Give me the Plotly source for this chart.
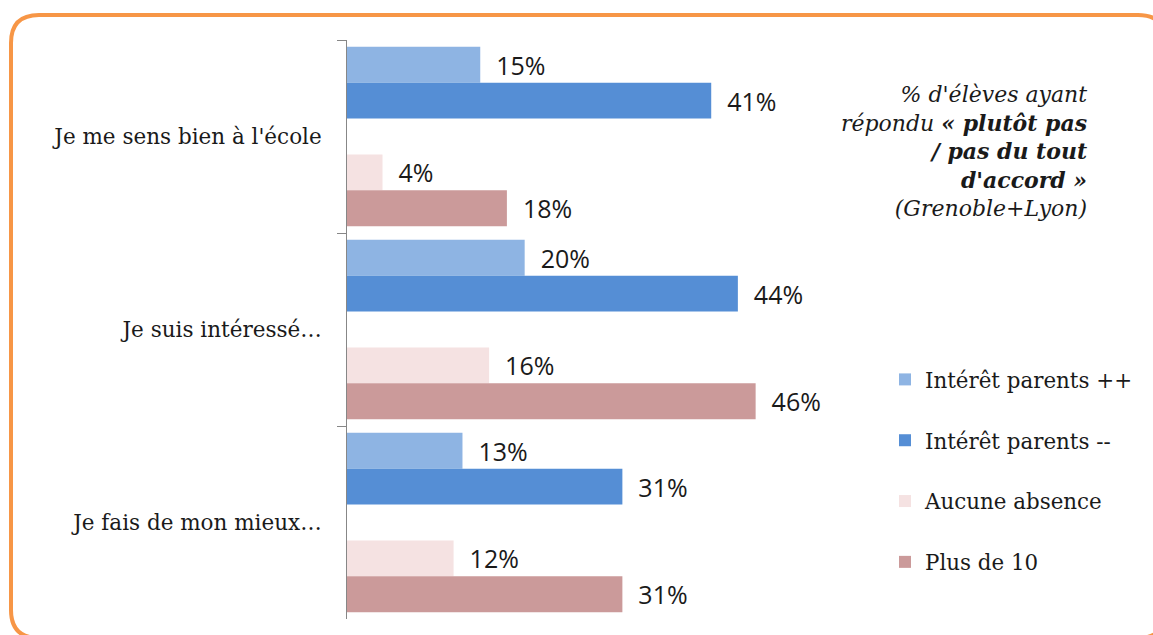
import plotly.graph_objects as go

# Survey items (one group of bars each)
categories = ["Je me sens bien à l'école", "Je suis intéressé…", "Je fais de mon mieux…"]

# % of pupils answering "rather not / not at all agree"
interet_plus = [15, 20, 13]
interet_moins = [41, 44, 31]
aucune_absence = [4, 16, 12]
plus_de_10 = [18, 46, 31]

series = [
    ("Intérêt parents ++", interet_plus, "#8EB4E3"),
    ("Intérêt parents --", interet_moins, "#558ED5"),
    (None, None, None),  # empty slot separating the two pairs
    ("Aucune absence", aucune_absence, "#F5E2E2"),
    ("Plus de 10", plus_de_10, "#CB9A9A"),
]

SERIF = "DejaVu Serif"
LABEL_FONT = "Open Sans"

fig = go.Figure()
for i, (name, vals, color) in enumerate(series):
    if vals is None:
        fig.add_trace(go.Bar(
            y=categories, x=[None] * len(categories), orientation="h",
            showlegend=False, hoverinfo="skip", name="",
        ))
        continue
    fig.add_trace(go.Bar(
        y=categories, x=vals, orientation="h", name=name,
        marker=dict(color=color, line=dict(width=0)),
        text=[f"{v}%" for v in vals],
        texttemplate="\u00a0\u00a0%{text}",
        textposition="outside",
        textfont=dict(family=LABEL_FONT, size=25, color="#1a1a1a"),
        constraintext="none",
        cliponaxis=False,
        legendgroup=f"g{i}",
    ))

W, H = 1153, 635
ML, MR, MT, MB = 347, 273, 40, 16
PW, PH = W - ML - MR, H - MT - MB


def paper(px, py):
    return (px - ML) / PW, (H - MB - py) / PH


# Rounded orange frame around the chart
x0, y0, x1, y1, r = 11, 15, 1166, 638, 28
pts = {
    "a": paper(x0 + r, y0), "b": paper(x1 - r, y0), "c": paper(x1, y0),
    "d": paper(x1, y0 + r), "e": paper(x1, y1 - r), "f": paper(x1, y1),
    "g": paper(x1 - r, y1), "h": paper(x0 + r, y1), "i": paper(x0, y1),
    "j": paper(x0, y1 - r), "k": paper(x0, y0 + r), "l": paper(x0, y0),
}
P = lambda k: f"{pts[k][0]:.5f},{pts[k][1]:.5f}"
frame_path = (
    f"M{P('a')} L{P('b')} Q{P('c')} {P('d')} L{P('e')} Q{P('f')} {P('g')} "
    f"L{P('h')} Q{P('i')} {P('j')} L{P('k')} Q{P('l')} {P('a')} Z"
)

note_x, note_y = paper(1089, 80)

fig.update_layout(
    width=W, height=H,
    margin=dict(l=ML, r=MR, t=MT, b=MB),
    paper_bgcolor="white", plot_bgcolor="white",
    barmode="group", bargap=0.07, bargroupgap=0,
    font=dict(family=SERIF, size=21, color="#1a1a1a"),
    xaxis=dict(range=[0, 60], visible=False, fixedrange=True),
    yaxis=dict(
        type="category", range=[2.5, -0.5],
        showline=True, linecolor="#878787", linewidth=1,
        ticks="outside", tickson="boundaries", ticklen=9, tickcolor="#878787",
        ticklabelstandoff=20,
        tickfont=dict(family=SERIF, size=21.5, color="#1a1a1a"),
        showgrid=False, zeroline=False,
    ),
    legend=dict(
        x=paper(885, 0)[0], xanchor="left",
        y=paper(0, 359)[1], yanchor="top",
        traceorder="grouped", tracegroupgap=30,
        font=dict(family=SERIF, size=21.4, color="#1a1a1a"),
        bgcolor="rgba(0,0,0,0)",
    ),
    shapes=[dict(
        type="path", xref="paper", yref="paper", path=frame_path,
        line=dict(color="#F79646", width=4), fillcolor="rgba(0,0,0,0)",
        layer="below",
    )],
    annotations=[dict(
        xref="paper", yref="paper", x=note_x, y=note_y,
        xanchor="right", yanchor="top", align="right", showarrow=False,
        text=("<i>% d'élèves ayant<br>répondu <b>« plutôt pas<br>/ pas du tout<br>"
              "d'accord »</b><br>(Grenoble+Lyon)</i>"),
        font=dict(family=SERIF, size=22, color="#1a1a1a"),
    )],
)

fig.write_html("out.html")
